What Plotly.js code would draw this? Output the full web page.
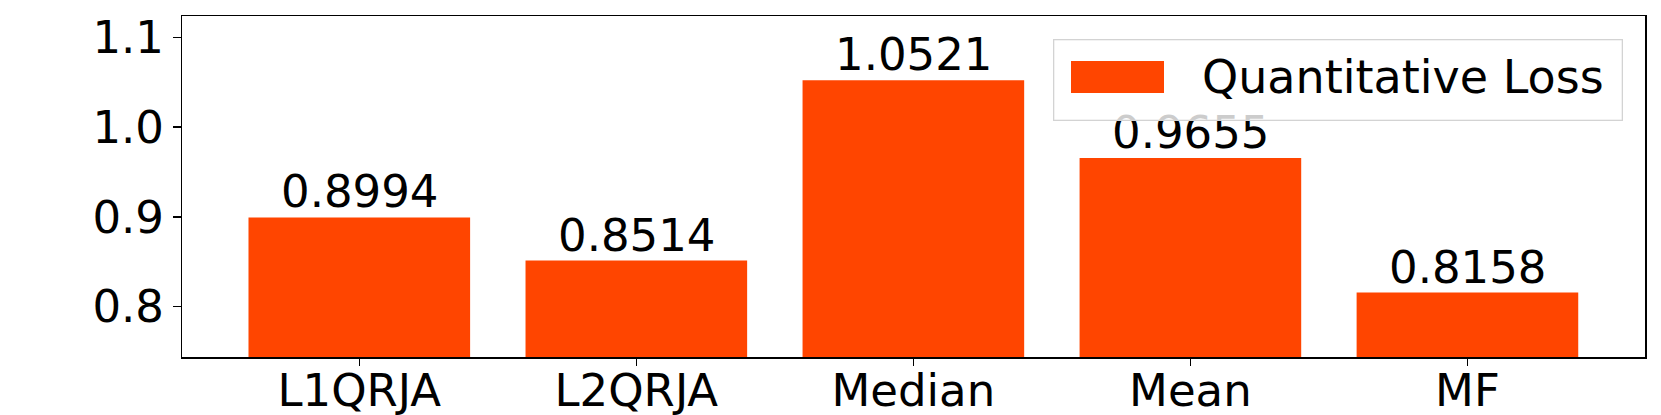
<!DOCTYPE html>
<html>
<head>
<meta charset="utf-8">
<script src="https://cdn.plot.ly/plotly-3.0.1.min.js"></script>
<style>html,body{margin:0;padding:0;background:#fff;}#chart{width:1661px;height:415px;}</style>
</head>
<body>
<div id="chart"></div>
<script>
const categories = ["L1QRJA", "L2QRJA", "Median", "Mean", "MF"];
const lossValues = [0.8994, 0.8514, 1.0521, 0.9655, 0.8158];
const seriesName = "Quantitative Loss";
const yTickValues = [0.8, 0.9, 1.0, 1.1];
const barColor = "#FF4500";

const FONT = "DejaVu Sans, sans-serif";

const trace = {
  type: "bar",
  x: categories,
  y: lossValues,
  name: seriesName,
  marker: {color: barColor, line: {width: 0}},
  width: 0.8,
  cliponaxis: false,
  hoverinfo: "x+y",
  showlegend: false
};

// value labels above bars
const valueLabels = categories.map((c, i) => ({
  xref: "x", yref: "y", x: c, y: lossValues[i], xanchor: "center", yanchor: "bottom",
  yshift: -3, text: lossValues[i].toFixed(4), showarrow: false,
  font: {family: FONT, size: 45, color: "#000"}
}));

// legend drawn as annotations, after the value labels so it sits on top
const legendItems = [
  {xref: "paper", yref: "paper", x: 0.5951, y: 0.9316, xanchor: "left", yanchor: "top",
   text: " ", showarrow: false, width: 567, height: 79, borderpad: 0,
   bgcolor: "rgba(255,255,255,0.8)", bordercolor: "#d3d3d3", borderwidth: 1.3,
   font: {family: FONT, size: 10}},
  {xref: "paper", yref: "paper", x: 0.6074, y: 0.8688, xanchor: "left", yanchor: "top",
   text: " ", showarrow: false, width: 93, height: 32, borderpad: 0,
   bgcolor: barColor, borderwidth: 0, font: {family: FONT, size: 10}},
  {xref: "paper", yref: "paper", x: 0.6955, y: 0.8218, xanchor: "left", yanchor: "middle",
   text: seriesName, showarrow: false, font: {family: FONT, size: 46, color: "#000"}}
];

const layout = {
  width: 1661,
  height: 415,
  margin: {l: 182, r: 16, t: 16, b: 58},
  paper_bgcolor: "#fff",
  plot_bgcolor: "#fff",
  font: {family: FONT, size: 45, color: "#000"},
  xaxis: {
    range: [-0.64, 4.641],
    showgrid: false,
    zeroline: false,
    showline: true,
    mirror: true,
    linecolor: "#000",
    linewidth: 1.5,
    ticks: "outside",
    ticklen: 7.5,
    tickwidth: 1.3,
    tickcolor: "#000",
    ticklabelstandoff: -14,
    tickfont: {family: FONT, size: 45, color: "#000"}
  },
  yaxis: {
    range: [0.744, 1.1237],
    showgrid: false,
    zeroline: false,
    showline: true,
    mirror: true,
    linecolor: "#000",
    linewidth: 1.5,
    ticks: "outside",
    ticklen: 7.5,
    tickwidth: 1.3,
    tickcolor: "#000",
    tickvals: yTickValues,
    tickformat: ".1f",
    tickfont: {family: FONT, size: 45, color: "#000"}
  },
  annotations: valueLabels.concat(legendItems)
};

Plotly.newPlot("chart", [trace], layout, {displayModeBar: false, staticPlot: true});
</script>
</body>
</html>
